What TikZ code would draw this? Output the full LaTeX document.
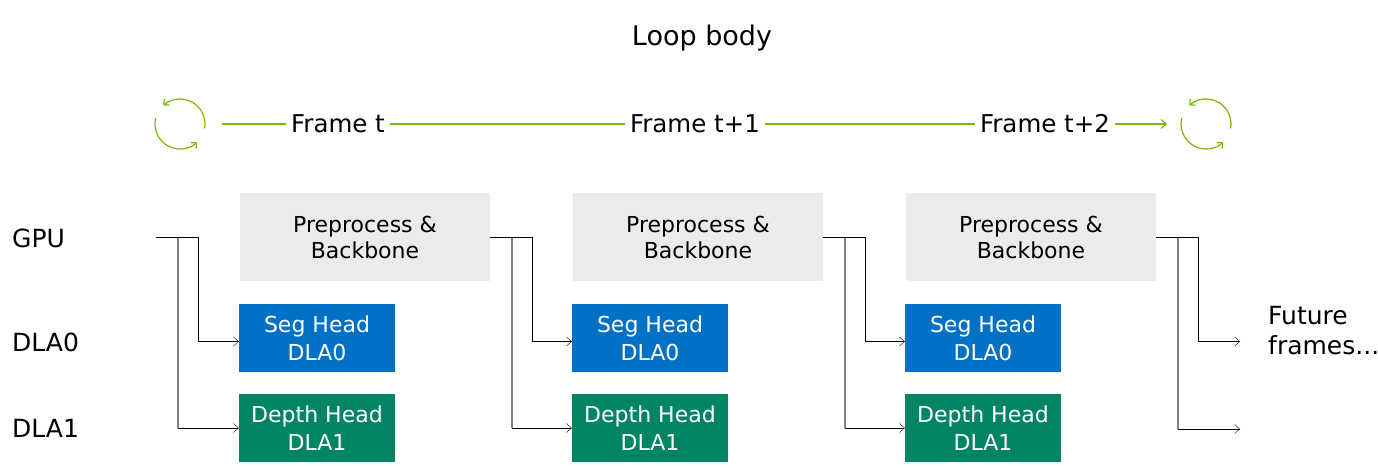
\documentclass[tikz,border=0pt]{standalone}
\usepackage{fontspec}
\setmainfont{DejaVu Sans}
\usetikzlibrary{arrows.meta}
\definecolor{nvgreen}{HTML}{76B900}
\definecolor{segblue}{HTML}{0071C5}
\definecolor{depthgreen}{HTML}{008564}
\definecolor{boxgray}{HTML}{EBEBEB}
\definecolor{railgray}{HTML}{808080}

\begin{document}
\begin{tikzpicture}[x=1pt,y=-1pt,
  lbl/.style={inner sep=0pt,font=\fontsize{25}{30}\selectfont},
  frame/.style={inner sep=5pt,font=\fontsize{24.5}{30}\selectfont},
  pre/.style={fill=boxgray,minimum width=250pt,minimum height=88pt,align=center,font=\fontsize{22}{26}\selectfont},
  head/.style={minimum width=156pt,minimum height=68pt,align=center,text=white,font=\fontsize{22}{28}\selectfont},
  arr/.style={-{Straight Barb[length=5pt,width=9pt]}},
  cyc/.style={nvgreen,line width=1.2pt,-{Straight Barb[length=4pt,width=8pt]}}]
  \useasboundingbox (0,0) rectangle (1378,468);

  % title and frames
  \node[lbl,font=\fontsize{27}{30}\selectfont] (title) at (702,38) {Loop body};
  \node[frame] (ft0) at (338,124) {Frame t};
  \node[frame] (ft1) at (695,124) {Frame t+1};
  \node[frame] (ft2) at (1045,124) {Frame t+2};
  \coordinate (lstart) at (222,124);
  \coordinate (lend) at (1167,124);
  \draw[nvgreen,line width=1.2pt] (lstart) -- (ft0) (ft0) -- (ft1) (ft1) -- (ft2);
  \draw[nvgreen,line width=1.2pt,arr] (ft2) -- (lend);

  % loop icons
  \foreach \cx in {180,1206} {
    \draw[cyc] (\cx,124) ++(10:25) arc[start angle=10,end angle=-132,radius=25];
    \draw[cyc] (\cx,124) ++(-166:25) arc[start angle=-166,end angle=-313,radius=25];
  }

  % row labels
  \node[lbl,anchor=west] (gpu) at (12,238) {GPU};
  \node[lbl,anchor=west] (dla0) at (12,342) {DLA0};
  \node[lbl,anchor=west] (dla1) at (12,428) {DLA1};

  % boxes
  \foreach \i/\cx in {1/365,2/698,3/1031} {
    \node[pre] (pre\i) at (\cx,237) {Preprocess \&\\Backbone};
    \node[head,fill=segblue] (seg\i) at (\cx-48,338) {Seg Head\\DLA0};
    \node[head,fill=depthgreen] (dep\i) at (\cx-48,428) {Depth Head\\DLA1};
  }

  \node[lbl,anchor=west,align=left] (fut) at (1268,331) {Future\\frames...};
  \coordinate (gpuin) at (156,237);
  \coordinate (fut0) at (1240,338);
  \coordinate (fut1) at (1240,429);

  % connectors
  \foreach \src/\a/\b in {gpuin/seg1.west/dep1.west,pre1.east/seg2.west/dep2.west,
                          pre2.east/seg3.west/dep3.west,pre3.east/fut0/fut1} {
    \path (\src) ++(22,0) coordinate (v);
    \draw[railgray,line width=1.6pt] (v) -- (v |- \b);
    \draw[arr] (v |- \b) -- (\b);
    \draw[arr] (\src) -- ++(42,0) |- ([yshift=-3.5pt]\a);
  }

\end{tikzpicture}
\end{document}
